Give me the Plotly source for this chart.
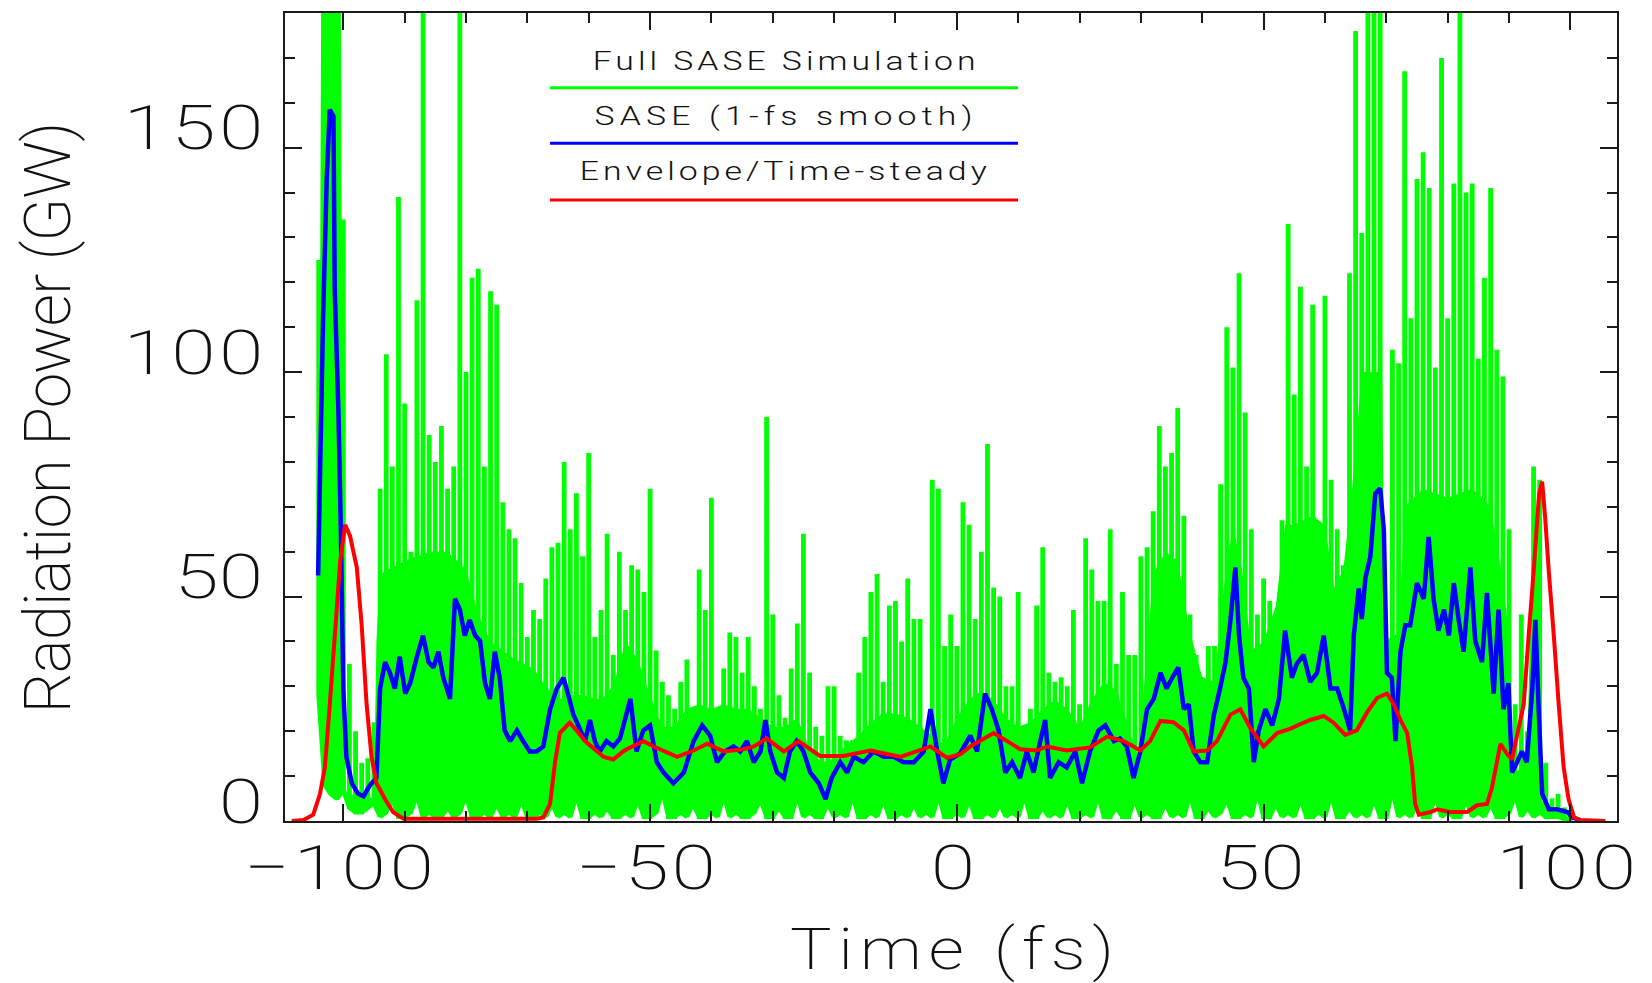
import json
import plotly.graph_objects as go

# ---------------- data ----------------
# Envelope / time-steady (red)
red_t = [-108.4, -106.5, -104.9, -103.8, -103.0, -102.2, -101.4, -100.5, -99.7, -98.9,
         -97.8, -97.0, -96.2, -95.4, -94.6, -93.2, -91.9, -90.2, -68.5, -67.4,
         -66.3, -65.5, -64.7, -63.1, -62.0, -60.6, -57.6, -56.0, -54.4, -53.8,
         -51.1, -49.4, -45.6, -42.9, -40.7, -38.0, -34.8, -33.1, -31.0, -28.2,
         -25.8, -22.3, -18.5, -14.1, -9.2, -4.3, -1.6, 0.6, 2.2, 6.0,
         8.2, 10.3, 13.0, 14.7, 17.9, 21.7, 24.5, 27.2, 28.8, 29.9,
         31.5, 33.2, 35.3, 37.0, 38.6, 40.8, 42.4, 44.6, 46.2, 47.8,
         50.0, 52.2, 54.4, 56.0, 57.6, 59.8, 61.4, 63.3, 65.2, 66.9,
         68.5, 70.1, 71.2, 72.3, 73.4, 74.2, 74.7, 75.3, 77.2, 78.3,
         80.4, 83.2, 84.8, 86.4, 87.2, 88.6, 89.7, 90.5, 91.3, 92.4,
         93.2, 94.0, 94.9, 95.4, 95.9, 96.5, 97.3, 98.1, 98.9, 99.7,
         100.6, 101.6, 105.7]
red_v = [0, 0.2, 1.4, 6, 12, 26, 41, 58, 66, 63.5,
         56.5, 43.6, 26, 14.3, 8.4, 4.9, 2, 0.5, 0.5, 0.8,
         3.8, 13, 19.6, 21.9, 20.2, 17.8, 14.3, 13.7, 15.5, 16,
         17.8, 16.6, 14.3, 15.7, 17.2, 15.5, 16, 16.6, 18.4, 15.5,
         17.8, 14.5, 14.5, 15.7, 14.3, 16.6, 14.1, 14.9, 16.6, 19.6,
         17.8, 16, 15.7, 16.6, 15.7, 16.4, 18.8, 17.8, 16.6, 15.7,
         17.8, 22.3, 22, 20.2, 15.5, 15.7, 17.8, 23.7, 24.9, 20.8,
         16.6, 19.6, 20.6, 21.6, 22.5, 23.4, 21.9, 19.2, 20.2, 24.3,
         27.4, 28.4, 26, 22.5, 19.6, 12, 3.8, 1.4, 2, 2.6,
         2, 2, 3.5, 3.8, 7.3, 17.2, 14.9, 13.7, 19, 26,
         41.3, 55.3, 72.9, 75.6, 67.4, 55.3, 41.3, 26, 12, 4.9,
         0.8, 0.2, 0]

# SASE, 1-fs smoothed (blue)
blue_t = [-104.1, -103.8, -103.3, -102.7, -102.2, -101.6, -101.4, -100.8, -100.4, -100.0,
          -99.5, -98.6, -97.6, -96.7, -95.7, -94.6, -94.0, -93.2, -92.4, -91.6,
          -90.8, -89.9, -89.1, -88.0, -87.0, -86.1, -85.3, -84.5, -83.7, -82.6,
          -81.8, -81.0, -80.2, -79.4, -78.5, -77.7, -76.9, -76.1, -75.3, -74.5,
          -73.7, -72.8, -71.7, -70.7, -69.6, -68.5, -67.4, -66.3, -65.2, -64.1,
          -63.4, -62.5, -61.7, -60.6, -59.8, -59.0, -58.2, -57.1, -56.0, -54.9,
          -53.2, -52.2, -51.1, -50.0, -48.9, -47.8, -46.2, -44.5, -42.9, -41.5,
          -40.2, -39.1, -37.8, -36.4, -35.3, -34.2, -33.1, -32.0, -31.2, -30.4,
          -29.3, -28.2, -27.2, -26.1, -25.0, -23.9, -22.5, -21.4, -20.4, -19.0,
          -17.9, -16.8, -15.2, -13.6, -11.9, -10.3, -8.7, -7.0, -5.4, -4.3,
          -3.2, -2.2, -1.1, 0.5, 2.2, 3.3, 4.6, 5.7, 6.8, 7.9,
          9.0, 10.3, 11.4, 12.5, 13.6, 14.4, 15.2, 16.6, 17.9, 19.3,
          20.4, 21.7, 23.1, 24.2, 25.6, 26.6, 27.7, 28.8, 29.9, 31.0,
          32.1, 33.2, 34.2, 35.1, 36.1, 37.0, 37.8, 38.6, 39.7, 40.8,
          41.9, 42.9, 43.8, 44.6, 45.4, 46.0, 46.7, 47.6, 48.4, 49.2,
          50.3, 51.4, 52.5, 53.5, 54.6, 55.4, 56.5, 57.6, 58.7, 59.8,
          60.9, 62.0, 63.1, 64.1, 64.7, 65.5, 66.0, 66.6, 67.4, 68.2,
          69.0, 69.6, 70.1, 70.9, 71.5, 72.3, 73.1, 73.9, 75.0, 76.1,
          76.9, 77.7, 78.5, 79.4, 80.2, 81.0, 81.8, 82.6, 83.7, 84.5,
          85.6, 86.4, 87.5, 88.3, 89.1, 89.9, 90.5, 91.3, 92.1, 92.9,
          93.8, 94.3, 94.9, 95.4, 96.5, 97.8, 99.5, 100.3, 101.6]
blue_v = [54.7, 76.4, 111.6, 143, 158.5, 157, 118.6, 91.7, 64.7, 29.5,
          14.3, 8.4, 6.1, 5.5, 7.9, 9.6, 29.5, 35.4, 33, 29.5,
          36.6, 28.4, 30.7, 36.6, 41.3, 35.4, 34.2, 37.7, 31.9, 27.2,
          49.5, 47.1, 41.3, 44.8, 41.3, 40.1, 30.7, 27.2, 37.7, 31.9,
          20.2, 17.8, 20.2, 17.8, 15.5, 15.5, 16.6, 24.9, 29.5, 31.9,
          28.4, 23.7, 21.3, 17.8, 22.5, 17.8, 15.5, 17.8, 16.6, 18.4,
          27.2, 15.5, 20.2, 21.3, 13.1, 10.8, 8.4, 10.8, 17.8, 21.3,
          19, 13.1, 15.5, 16.6, 15.5, 17.8, 13.1, 15.5, 22.5, 15.5,
          10.8, 9.6, 15.5, 17.8, 15.5, 10.8, 8.4, 4.9, 9.6, 13.1,
          10.8, 14.3, 13.1, 15.5, 14.3, 14.3, 13.1, 13.1, 15.5, 24.9,
          15.5, 8.4, 13.7, 15, 19, 15.5, 28.4, 24.9, 20.2, 10.8,
          13.1, 9.6, 15.5, 10.8, 17.8, 22.5, 9.6, 13.1, 11.9, 15.5,
          8.4, 15.5, 20.2, 21.3, 17.8, 18.4, 16.6, 9.6, 15.5, 24.9,
          27.2, 33, 29.5, 31.9, 34.2, 24.9, 26, 15.5, 13.1, 13.1,
          23.7, 29.5, 35.4, 44.8, 56.5, 41.3, 31.9, 29.5, 13.1, 20.2,
          24.9, 21.3, 27.2, 42.4, 31.9, 35, 37, 31, 33, 41.3,
          29.5, 29.5, 24.9, 20.2, 41.3, 51.8, 45, 54.2, 58.9, 72.9,
          74.1, 64.8, 33, 31.9, 17.8, 37.7, 43.6, 43.6, 53, 49.5,
          63.3, 49.5, 42.4, 47.1, 41.3, 53, 44.8, 37.7, 56.5, 40.1,
          35.4, 50.8, 28.4, 47.1, 24.9, 30.7, 10.8, 13.1, 15.5, 13.1,
          29.5, 44.8, 22.5, 6.1, 2.6, 2.6, 2, 0.8, 0.2]

# Full SASE simulation (green): per 1-fs bin, spike maximum and minimum
green_t0 = -104        # centre of first bin (fs)
green_step = 1.0       # bin width (fs)
green_peak = [125, 185, 185, 185, 134, 35, 20, 13, 14, 22,
              74, 104, 79, 139, 93, 60, 116, 185, 86, 80,
              88, 74, 79, 185, 100, 121, 123, 79, 118, 115,
              71, 65, 63, 53, 41, 47, 45, 54, 61, 62,
              80, 65, 73, 59, 82, 41, 47, 64, 37, 60,
              47, 57, 56, 51, 74, 38, 31, 28, 25, 31,
              36, 23, 56, 47, 72, 25, 34, 42, 41, 33,
              41, 30, 25, 90, 46, 28, 23, 34, 44, 64,
              33, 21, 19, 30, 30, 19, 18, 18, 33, 41,
              51, 55, 31, 48, 49, 40, 54, 45, 45, 20,
              76, 74, 39, 46, 39, 71, 66, 45, 60, 84,
              52, 50, 30, 30, 51, 20, 25, 48, 61, 33,
              31, 32, 30, 47, 26, 63, 56, 49, 49, 65,
              35, 51, 37, 37, 59, 61, 69, 88, 79, 82,
              92, 68, 46, 37, 32, 39, 39, 75, 110, 101,
              122, 91, 65, 46, 54, 49, 41, 67, 133, 95,
              119, 79, 115, 64, 117, 76, 65, 57, 122, 176,
              131, 185, 185, 185, 41, 105, 102, 167, 112, 143,
              149, 141, 101, 170, 112, 142, 185, 140, 142, 103,
              121, 141, 105, 99, 65, 26, 46, 20, 79, 76,
              13, 5, 6, 3, 1.4]
green_trough = [28, 8, 6, 5, 7, 3, 2, 2, 3, 4,
                1, 2, 5, 1, 1, 2, 6, 1, 2, 1,
                1, 3, 1, 2, 6, 1, 1, 2, 1, 4,
                1, 2, 1, 5, 1, 1, 2, 1, 4, 1,
                2, 1, 6, 1, 1, 2, 1, 3, 1, 1,
                2, 1, 5, 1, 1, 2, 7, 1, 1, 2,
                1, 4, 1, 1, 2, 1, 6, 1, 2, 1,
                1, 2, 5, 1, 1, 3, 1, 1, 6, 1,
                2, 1, 1, 4, 1, 2, 1, 6, 1, 1,
                2, 1, 5, 1, 1, 2, 1, 4, 1, 2,
                1, 6, 1, 1, 2, 1, 5, 1, 1, 2,
                1, 4, 1, 2, 1, 6, 1, 1, 3, 1,
                2, 1, 5, 1, 1, 2, 1, 6, 1, 1,
                3, 1, 1, 5, 1, 2, 1, 1, 4, 1,
                2, 1, 6, 1, 1, 3, 1, 2, 5, 1,
                1, 2, 1, 7, 1, 1, 4, 1, 2, 1,
                5, 1, 1, 2, 1, 6, 1, 1, 3, 1,
                2, 1, 5, 1, 1, 7, 1, 2, 1, 4,
                1, 1, 6, 1, 2, 1, 1, 5, 1, 2,
                1, 4, 1, 1, 2, 6, 1, 3, 1, 2,
                1, 1, 1, 0.5, 0.3]
# level up to which the green spikes merge into a solid band
green_base_t = [-104.3, -104.0, -103.6, -100.4, -100.0, -99.5, -95.0, -94.6, -94.0, -90,
                -86, -83, -80, -78, -76, -74, -72, -69, -67, -65,
                -63, -61, -58, -56, -54, -52, -50, -48, -46, -44,
                -42, -40, -38, -36, -34, -32, -30, -28, -26, -24,
                -22, -20, -18, -16, -14, -12, -10, -8, -6, -4,
                -2, 0, 2, 4, 6, 8, 10, 12, 14, 16,
                18, 20, 22, 24, 26, 28, 29.5, 31, 32, 34,
                36, 38, 40, 42, 43.5, 45, 46.5, 48, 50, 52,
                53.5, 55, 58, 60, 61.5, 63, 64.5, 66, 69.3, 69.8,
                72, 73, 76, 80, 84, 87, 88.5, 90, 90.6, 92,
                93, 93.8, 94.6, 95.2, 96, 99, 99.6]
green_base_v = [30, 40, 185, 185, 20, 6, 5, 40, 55, 58,
                60, 60, 56, 46, 40, 38, 36, 34, 30, 27,
                28, 28, 27, 30, 40, 36, 28, 21, 21, 25,
                26, 25, 26, 25, 25, 23, 21, 21, 23, 16,
                13, 14, 17, 19, 22, 24, 24, 23, 21, 19,
                17, 23, 27, 29, 27, 23, 21, 22, 25, 27,
                25, 21, 27, 31, 29, 21, 14, 38, 55, 60,
                58, 42, 32, 31, 52, 66, 56, 38, 40, 48,
                66, 66, 68, 66, 52, 56, 75, 100, 100, 40,
                42, 70, 74, 72, 74, 70, 58, 42, 10, 12,
                18, 62, 62, 5, 3, 2, 0.5]

series_names = ["Full SASE Simulation", "SASE (1-fs smooth)", "Envelope/Time-steady"]
series_colors = ["#00ff00", "#0000ff", "#ff0000"]

x_tick_vals = [-100, -50, 0, 50, 100]
x_tick_text = ["\u2212100", "\u221250", "0", "50", "100"]
x_minor_vals = [-90, -80, -70, -60, -40, -30, -20, -10, 10, 20, 30, 40, 60, 70, 80, 90]
y_tick_vals = [0, 50, 100, 150]
y_tick_text = ["0", "50", "100", "150"]
y_minor_vals = [10, 20, 30, 40, 60, 70, 80, 90, 110, 120, 130, 140, 160, 170]
x_title = "Time (fs)"
y_title = "Radiation Power (GW)"

assert len(red_t) == len(red_v)
assert len(blue_t) == len(blue_v)
assert len(green_peak) == len(green_trough)
assert len(green_base_t) == len(green_base_v)

# ---------------- figure ----------------
FONT = "Roboto"
TXT = "#111111"
AX = "#1a1a1a"
GREEN = series_colors[0]

fig = go.Figure()

bin_t = [green_t0 + i * green_step for i in range(len(green_peak))]
gx, gy = [], []
for t, lo, hi in zip(bin_t, green_trough, green_peak):
    gx.extend([t, t, t])
    gy.extend([lo, hi, lo])

# solid band of the green signal: from the minima up to the merge level
fig.add_trace(go.Scatter(x=bin_t, y=green_trough, mode="lines",
                         line=dict(width=0, color=GREEN), hoverinfo="skip"))
fig.add_trace(go.Scatter(x=green_base_t, y=green_base_v, mode="lines", fill="tonexty",
                         fillcolor=GREEN, line=dict(width=0, color=GREEN), hoverinfo="skip"))
# individual spikes (vertical bars from bin minimum to bin maximum)
fig.add_trace(go.Scatter(x=gx, y=gy, mode="lines", name=series_names[0],
                         line=dict(color=GREEN, width=4.8, simplify=False)))
fig.add_trace(go.Scatter(x=blue_t, y=blue_v, mode="lines", name=series_names[1],
                         line=dict(color=series_colors[1], width=4.5, simplify=False)))
fig.add_trace(go.Scatter(x=red_t, y=red_v, mode="lines", name=series_names[2],
                         line=dict(color=series_colors[2], width=4, simplify=False)))

axis_common = dict(showline=True, linecolor=AX, linewidth=2, mirror="ticks",
                   ticks="inside", ticklen=17, tickwidth=1.5, tickcolor=AX,
                   showticklabels=False, showgrid=False, zeroline=False)
fig.update_xaxes(range=[-109.5, 107.6], tickvals=x_tick_vals,
                 minor=dict(tickvals=x_minor_vals, ticks="inside", ticklen=10,
                            tickwidth=1.5, tickcolor=AX, showgrid=False),
                 **axis_common)
fig.update_yaxes(range=[0, 180], tickvals=y_tick_vals,
                 minor=dict(tickvals=y_minor_vals, ticks="inside", ticklen=10,
                            tickwidth=1.5, tickcolor=AX, showgrid=False),
                 **axis_common)

annotations, targets, aligns, stretch = [], [], [], []


def add_text(text, size, weight, target, align, sx, **kw):
    annotations.append(dict(text=text, showarrow=False,
                            font=dict(family=FONT, size=size, color=TXT, weight=weight), **kw))
    targets.append(target)
    aligns.append(align)
    stretch.append(sx)


y_tick_widths = [None, 89, 140, 140]
for v, txt, w in zip(y_tick_vals, y_tick_text, y_tick_widths):
    add_text(txt, 62, 200, w, "r", 1.3, xref="paper", x=0, xanchor="right", xshift=-20,
             yref="y", y=v, yanchor="middle", yshift=20)

x_tick_widths = [190, 140, None, 89, 140]
for v, txt, w in zip(x_tick_vals, x_tick_text, x_tick_widths):
    add_text(txt, 62, 200, w, "c", 1.3, xref="x", x=v, xanchor="center", xshift=-4,
             yref="paper", y=0, yanchor="middle", yshift=-46)

legend_text_y = [0.9408, 0.8729, 0.8050]
legend_line_y = [0.9074, 0.8389, 0.7685]
legend_widths = [383, 378, 407]
for name, ty, w in zip(series_names, legend_text_y, legend_widths):
    add_text(name, 26, 300, w, "c", 1.3, xref="paper", x=0.3743, xanchor="center",
             yref="paper", y=ty, yanchor="middle")

add_text(x_title, 58, 200, 324, "c", 1.2, xref="paper", x=0.5008, xanchor="center",
         yref="paper", y=-0.1580, yanchor="middle")
add_text(y_title, 64, 200, 592, "c", 1.0, xref="paper", x=-0.1776, xanchor="center",
         yref="paper", y=0.5, yanchor="middle", textangle=-90)

shapes = []
for ly, col in zip(legend_line_y, series_colors):
    shapes.append(dict(type="line", xref="paper", yref="paper", x0=0.199, x1=0.5503,
                       y0=ly, y1=ly, line=dict(color=col, width=3)))

fig.update_layout(width=1652, height=983,
                  margin=dict(l=285, r=35, t=11, b=162),
                  paper_bgcolor="white", plot_bgcolor="white",
                  showlegend=False, font=dict(family=FONT, color=TXT),
                  annotations=annotations, shapes=shapes)

js = """
document.body.style.margin = '0';
var gd = document.getElementById('{plot_id}');
var TW = %s, AL = %s, SX = %s;
function fitText() {
  gd.querySelectorAll('g.annotation').forEach(function (g) {
    var i = +g.getAttribute('data-index');
    var t = g.querySelector('text.annotation-text');
    if (!t) return;
    t.style.letterSpacing = '0px';
    t.removeAttribute('dx');
    t.removeAttribute('transform');
    var bb = t.getBBox();
    var sx = SX[i] || 1;
    var cx = AL[i] === 'r' ? bb.x + bb.width : (AL[i] === 'l' ? bb.x : bb.x + bb.width / 2);
    var n = t.textContent.length;
    if (TW[i] !== null && TW[i] !== undefined && n > 1) {
      var w = t.getComputedTextLength();
      var ls = (TW[i] / sx - w) / (n - 1);
      t.style.letterSpacing = ls + 'px';
      var anc = t.getAttribute('text-anchor') || 'start';
      var f = anc === 'middle' ? 0.5 : (anc === 'end' ? 1 : 0);
      var A = n * ls;
      var dx = AL[i] === 'l' ? f * A : (AL[i] === 'r' ? f * A - (n - 1) * ls : f * A - (n - 1) * ls / 2);
      t.setAttribute('dx', dx);
    }
    if (sx !== 1) {
      t.setAttribute('transform', 'translate(' + cx + ',0) scale(' + sx + ',1) translate(' + (-cx) + ',0)');
    }
  });
}
fitText();
gd.on('plotly_afterplot', fitText);
if (document.fonts) { document.fonts.ready.then(fitText); }
""" % (json.dumps(targets), json.dumps(aligns), json.dumps(stretch))

fig.write_html("out.html", post_script=js, config={"displayModeBar": False})
